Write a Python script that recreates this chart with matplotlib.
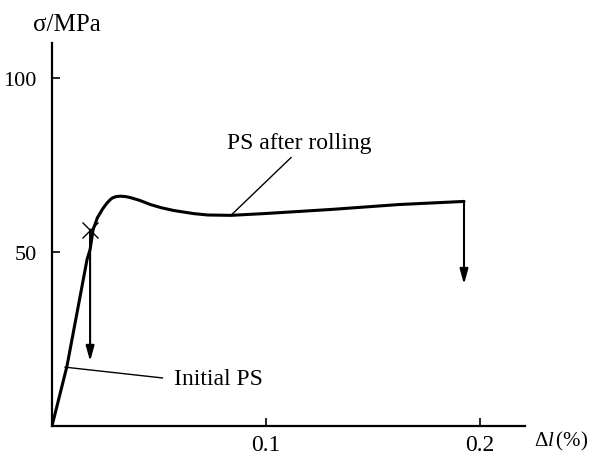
import matplotlib.pyplot as plt

plt.rcParams['font.family'] = 'Liberation Serif'
plt.rcParams['mathtext.fontset'] = 'custom'
plt.rcParams['mathtext.rm'] = 'Liberation Serif'
plt.rcParams['mathtext.it'] = 'Liberation Serif:italic'

# stress-strain curve of PS after rolling
strain = [0.0, 0.0070, 0.0164, 0.0178, 0.0192, 0.0212, 0.0235, 0.0255, 0.0272, 0.0282,
          0.0300, 0.0320, 0.0343, 0.0366, 0.0410, 0.0460, 0.0510, 0.0568, 0.0620,
          0.0662, 0.0728, 0.0836, 0.0990, 0.1305, 0.1620, 0.1925]
stress = [0.0, 17.2, 47.9, 50.7, 56.4, 59.8, 62.2, 63.9, 65.0, 65.5,
          65.9, 66.0, 65.9, 65.6, 64.8, 63.6, 62.7, 61.9, 61.4,
          61.0, 60.6, 60.5, 61.0, 62.2, 63.6, 64.5]

# break of initial PS and unloading drops
initial_break = (0.0178, 56.4)
drop_initial = (0.0178, 56.4, 18.6)
drop_rolled = (0.1925, 64.5, 40.7)

xticks = [0.1, 0.2]
xtick_labels = ["0.1", "0.2"]
yticks = [50, 100]

fig = plt.figure(figsize=(6.02, 4.6), dpi=100)
ax = fig.add_axes([52 / 602, 33 / 460, 473 / 602, 383 / 460])

ax.plot(strain, stress, color='black', lw=2.2, solid_capstyle='round',
        solid_joinstyle='round')
ax.plot(*initial_break, marker='x', color='black', markersize=12, mew=1.0)

for x, y0, y1 in [drop_initial, drop_rolled]:
    ax.annotate('', xy=(x, y1), xytext=(x, y0),
                arrowprops=dict(arrowstyle='-|>,head_length=0.9,head_width=0.25',
                                color='black', lw=1.5, shrinkA=0, shrinkB=0))

# leader lines and labels
ax.plot([0.0061, 0.0516], [16.9, 13.8], color='black', lw=1.0)
ax.text(0.0568, 13.5, "Initial PS", fontsize=17, ha='left', va='center')
ax.plot([0.0836, 0.1117], [60.5, 77.1], color='black', lw=1.0)
ax.text(0.1155, 81.4, "PS after rolling", fontsize=17, ha='center', va='center')

ax.set_xlim(0, 0.221)
ax.set_ylim(0, 110)
ax.set_xticks(xticks)
ax.set_xticklabels(xtick_labels)
ax.set_yticks(yticks)
ax.tick_params(direction='in', length=6, width=1.2, labelsize=17, pad=6)
ax.tick_params(axis='y', labelsize=16, pad=11)

for side in ['top', 'right']:
    ax.spines[side].set_visible(False)
for side in ['left', 'bottom']:
    ax.spines[side].set_linewidth(1.6)

fig.text(33 / 602, 1 - 25 / 460, "σ/MPa", fontsize=18, ha='left', va='center')
fig.text(588 / 602, 1 - 441 / 460, r'$\Delta \mathit{l}\,(\%)$', fontsize=15,
         ha='right', va='center')

fig.savefig('out.png', dpi=100)
